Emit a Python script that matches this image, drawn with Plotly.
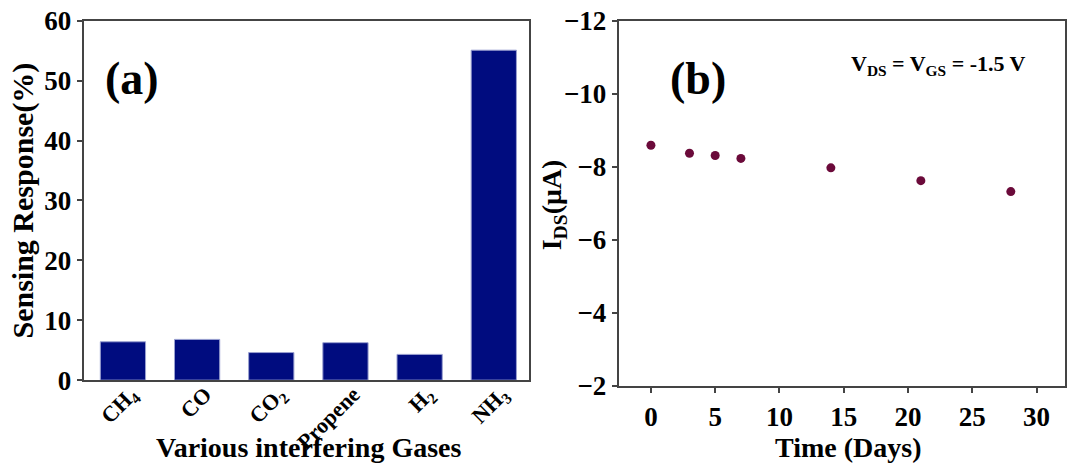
import plotly.graph_objects as go

gases = ["CH<sub>4</sub>", "CO", "CO<sub>2</sub>", "Propene", "H<sub>2</sub>", "NH<sub>3</sub>"]
response = [6.4, 6.8, 4.6, 6.25, 4.3, 55.1]
resp_ticks = [0, 10, 20, 30, 40, 50, 60]

days = [0, 3, 5, 7, 14, 21, 28]
ids = [-8.59, -8.37, -8.31, -8.23, -7.97, -7.62, -7.32]
day_ticks = [0, 5, 10, 15, 20, 25, 30]
ids_ticks = [-12, -10, -8, -6, -4, -2]

FONT = "Liberation Serif"
AX = "#444444"


def b(s):
    return "<b>" + s + "</b>"


def num(v):
    return b(str(v).replace("-", "\u2212"))


fig = go.Figure()
fig.add_trace(go.Bar(x=list(range(len(gases))), y=response, width=0.61,
                     marker=dict(color="#000c7f", line=dict(color="#9aa0d0", width=1)),
                     xaxis="x", yaxis="y", showlegend=False))
fig.add_trace(go.Scatter(x=days, y=ids, mode="markers",
                         marker=dict(color="#6b0a3a", size=9),
                         xaxis="x2", yaxis="y2", showlegend=False))

tickfont = dict(family=FONT, size=27, color="black")
common = dict(showline=True, linecolor=AX, linewidth=1.5, mirror=True,
              showgrid=False, zeroline=False, automargin=False, tickmode="array")

fig.update_layout(
    template="none",
    width=1068, height=463,
    margin=dict(l=0, r=0, t=0, b=0, pad=0),
    paper_bgcolor="white", plot_bgcolor="white",
    font=dict(family=FONT, color="black"),
    xaxis=dict(domain=[0.079, 0.495], anchor="y", range=[-0.52, 5.47],
               tickvals=list(range(len(gases))), ticktext=[b(g) for g in gases],
               tickangle=-45, tickfont=dict(family=FONT, size=22, color="black"),
               ticklabelshift=8, ticklabelstandoff=-9,
               ticks="", **common),
    yaxis=dict(domain=[0.179, 0.955], anchor="x", range=[0, 60],
               tickvals=resp_ticks, ticktext=[num(v) for v in resp_ticks],
               tickfont=tickfont, ticks="outside", ticklen=6, tickcolor=AX, tickwidth=1.5,
               **common),
    xaxis2=dict(domain=[0.58, 0.997], anchor="y2", range=[-2.45, 32.2],
                tickvals=day_ticks, ticktext=[num(v) for v in day_ticks],
                tickfont=tickfont, ticks="outside", ticklen=6, tickcolor=AX, tickwidth=1.5,
                **common),
    yaxis2=dict(domain=[0.167, 0.955], anchor="x2", range=[-2, -12],
                tickvals=ids_ticks, ticktext=[num(v) for v in ids_ticks],
                tickfont=tickfont, ticks="outside", ticklen=6, tickcolor=AX, tickwidth=1.5,
                **common),
)

ann = [
    dict(text="<b>Sensing Response(%)</b>", x=0.022, y=0.568, textangle=-90, size=30),
    dict(text="<b>Various interfering Gases</b>", x=0.289, y=0.033, size=28),
    dict(text="<b>(a)</b>", x=0.124, y=0.83, size=46),
    dict(text="<b>I<sub>DS</sub>(μA)</b>", x=0.518, y=0.557, textangle=-90, size=28),
    dict(text="<b>Time (Days)</b>", x=0.794, y=0.033, size=28),
    dict(text="<b>(b)</b>", x=0.654, y=0.83, size=46),
    dict(text="<b>V<sub>DS</sub> = V<sub>GS</sub> = -1.5 V</b>", x=0.879, y=0.86, size=22),
]
fig.update_layout(annotations=[
    dict(text=a["text"], x=a["x"], y=a["y"], xref="paper", yref="paper",
         xanchor="center", yanchor="middle", showarrow=False,
         textangle=a.get("textangle", 0),
         font=dict(family=FONT, size=a["size"], color="black"))
    for a in ann
])

fig.write_html("out.html")
